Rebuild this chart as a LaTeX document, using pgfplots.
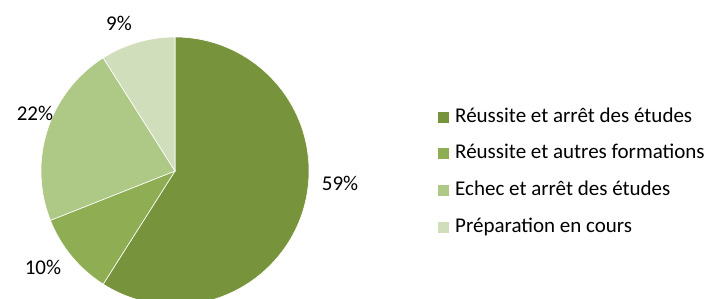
\documentclass[border=0pt]{standalone}
\usepackage{pgfplots}
\pgfplotsset{compat=1.18}
\usepackage{pgfplotstable}
\usepackage{fontspec}
\setmainfont{Carlito}
\definecolor{c0}{HTML}{77933C}
\definecolor{c1}{HTML}{8FAD52}
\definecolor{c2}{HTML}{AEC886}
\definecolor{c3}{HTML}{D0DEBC}
\pgfplotstableread{
value lx ly
59 340 115
10 43 31
22 35 185
9 119 275
}\piedata
\begin{document}
\begin{tikzpicture}
\useasboundingbox (0,0) rectangle (710pt,298pt);
\begin{axis}[
  width=710pt, height=298pt, scale only axis,
  xmin=0, xmax=710, ymin=0, ymax=298,
  hide axis, clip=true,
  font=\fontsize{21}{25}\selectfont,
  legend cell align=left,
  legend image code/.code={\fill[#1, draw=none] (0pt,-5.5pt) rectangle (11pt,5.5pt);},
  legend style={at={(axis cs:438,191)}, anchor=north west, draw=none, fill=none,
    inner sep=0pt, row sep=16.7pt, column sep=0pt,
    nodes={inner sep=0pt, text height=15pt, text depth=5pt, anchor=west},
    /tikz/every odd column/.style={column sep=6pt}},
]
\def\startang{90}
\pgfplotsforeachungrouped \i in {0,...,3}{%
  \pgfplotstablegetelem{\i}{value}\of\piedata
  \pgfmathsetmacro\endang{\startang - 3.6*\pgfplotsretval}%
  \edef\temp{\noexpand\fill[color=c\i, draw=white, line width=0.6pt] (axis cs:175,127) -- (axis cs:{175+134*cos(\startang)},{127+134*sin(\startang)}) arc[start angle=\startang, end angle=\endang, radius=134pt] -- cycle;}%
  \temp
  \pgfplotstablegetelem{\i}{lx}\of\piedata \let\lx\pgfplotsretval
  \pgfplotstablegetelem{\i}{ly}\of\piedata \let\ly\pgfplotsretval
  \pgfplotstablegetelem{\i}{value}\of\piedata
  \edef\temp{\noexpand\node[font=\noexpand\fontsize{21}{25}\noexpand\selectfont, inner sep=0pt] at (axis cs:\lx,\ly) {\pgfplotsretval\noexpand\%};}%
  \temp
  \global\let\startang\endang
}
\addlegendimage{fill=c0, draw=none}
\addlegendentry{Réussite et arrêt des études}
\addlegendimage{fill=c1, draw=none}
\addlegendentry{Réussite et autres formations}
\addlegendimage{fill=c2, draw=none}
\addlegendentry{Echec et arrêt des études}
\addlegendimage{fill=c3, draw=none}
\addlegendentry{Préparation en cours}
\end{axis}
\end{tikzpicture}
\end{document}
